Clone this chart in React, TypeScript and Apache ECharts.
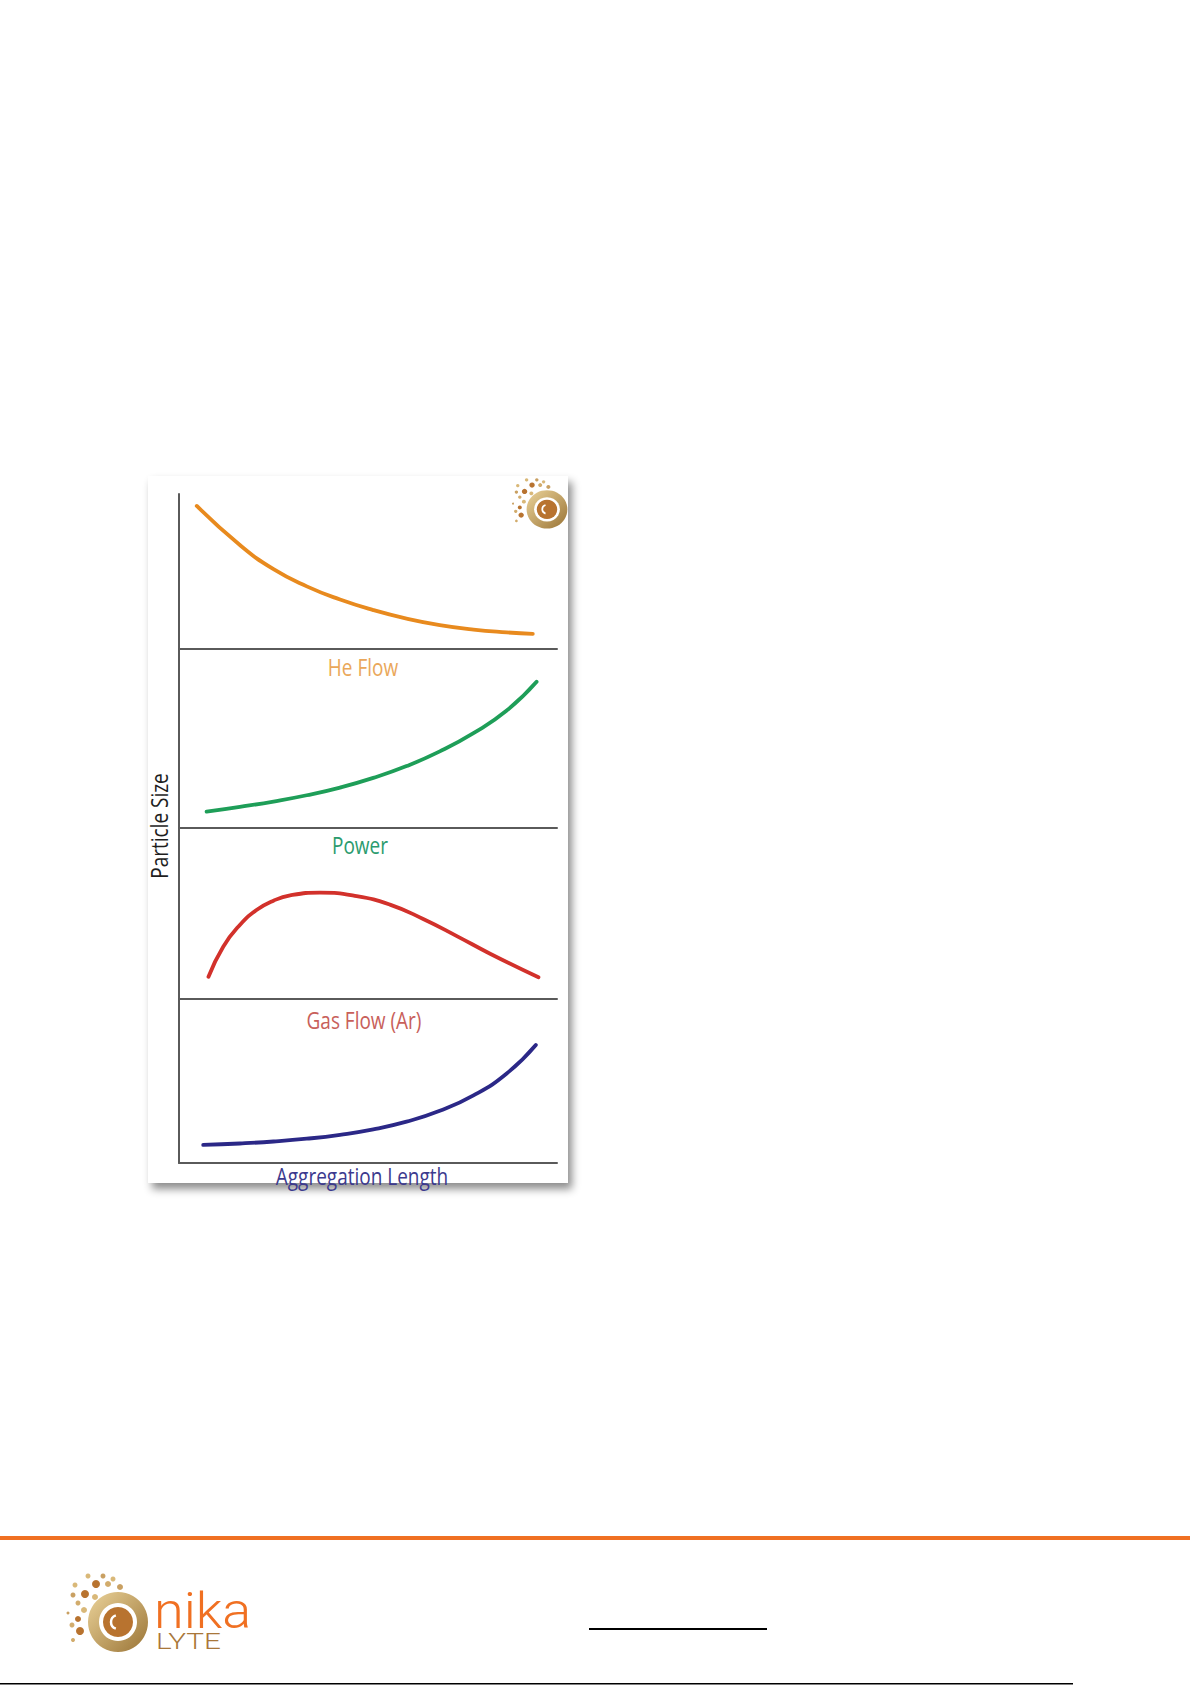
import React, { useEffect, useRef } from "react";
import * as echarts from "echarts";

// ---- data ----
const panelTitles = ["He Flow", "Power", "Gas Flow (Ar)", "Aggregation Length"];
const yAxisTitle = "Particle Size";

const heFlowX = [4.7, 16.1, 25, 33.8, 42.6, 51.4, 60.2, 69, 77.9, 86.7, 93.6];
const heFlowY = [92.3, 67.1, 51.5, 40.4, 31.9, 25.1, 19.6, 15.4, 12.5, 10.7, 9.7];

const powerX = [7.3, 16.1, 25, 33.8, 42.6, 51.4, 60.2, 69, 77.9, 86.7, 94.6];
const powerY = [9.1, 11.8, 14.8, 18.3, 22.6, 28.0, 34.6, 42.8, 53.0, 65.6, 81.7];

const gasFlowX = [7.8, 11.7, 16.1, 20.5, 25, 29.4, 37.3, 47, 55.8, 64.6, 73.5, 82.3, 95.1];
const gasFlowY = [13.0, 30.6, 43.3, 52, 57.5, 60.6, 62.2, 60.2, 55.2, 46.8, 36.8, 26.5, 12.7];

const aggX = [6.4, 16.1, 25, 33.8, 42.6, 51.4, 60.2, 69, 77.9, 86.7, 94.4];
const aggY = [11, 11.9, 13.1, 14.8, 17.2, 20.5, 25.2, 31.8, 41.2, 54.6, 72];

const lineColors = ["#E88A1E", "#1E9E58", "#D2312B", "#2B2887"];
const titleColors = ["#EAA75A", "#2B9B6E", "#C8605A", "#3C3A8E"];

// ---- layout ----
const GRID_LEFT = 179;
const GRID_WIDTH = 378;
const gridTops = [494, 649, 828, 999];
const gridHeights = [155, 179, 171, 164];
const titleCenters: [number, number][] = [
  [363, 667],
  [360, 845],
  [364, 1020],
  [362, 1176],
];

const zip = (xs: number[], ys: number[]) => xs.map((x, i) => [x, ys[i]]);

function iconChildren(): any[] {
  const gold = new echarts.graphic.LinearGradient(0, 0, 1, 1, [
    { offset: 0, color: "#EBD39A" },
    { offset: 1, color: "#9A7436" },
  ]);
  const dots: [number, number, number, string][] = [
    [20, 3, 2.5, "#D9B878"],
    [35, 3, 2.5, "#C9A062"],
    [45, 6, 2.5, "#D9B878"],
    [28, 11, 4, "#B8732F"],
    [40, 11, 3, "#D2AC6C"],
    [52, 14, 3, "#C9A062"],
    [7, 12, 2.5, "#D9B878"],
    [17, 21, 4, "#B8732F"],
    [5, 22, 2.5, "#C9A062"],
    [27, 24, 3, "#D9B878"],
    [10, 30, 2.5, "#D2AC6C"],
    [0, 40, 1.5, "#C9A062"],
    [16, 37, 3, "#D9B878"],
    [10, 46, 3, "#B8732F"],
    [4, 52, 2.5, "#D2AC6C"],
    [12, 58, 4, "#B8732F"],
    [5, 67, 2, "#D2AC6C"],
  ];
  const out: any[] = [
    { type: "circle", shape: { cx: 50, cy: 49, r: 30 }, style: { fill: gold } },
    { type: "circle", shape: { cx: 50, cy: 49, r: 19 }, style: { fill: "#ffffff" } },
    { type: "circle", shape: { cx: 50, cy: 49, r: 15 }, style: { fill: "#B8732F" } },
    {
      type: "arc",
      shape: { cx: 50, cy: 49, r: 7, startAngle: Math.PI * 0.6, endAngle: Math.PI * 1.4 },
      style: { stroke: "#ffffff", lineWidth: 2.5, fill: "none" },
    },
  ];
  dots.forEach(([cx, cy, r, c]) =>
    out.push({ type: "circle", shape: { cx, cy, r }, style: { fill: c } })
  );
  return out;
}

export default function App() {
  const ref = useRef<HTMLDivElement>(null);

  useEffect(() => {
    if (!ref.current) return;
    const chart = echarts.init(ref.current, undefined, { renderer: "svg" });

    const seriesData = [
      zip(heFlowX, heFlowY),
      zip(powerX, powerY),
      zip(gasFlowX, gasFlowY),
      zip(aggX, aggY),
    ];

    const axisLineStyle = { color: "#5a5a5a", width: 2 };

    const grids = gridTops.map((top, i) => ({
      left: GRID_LEFT,
      top,
      width: GRID_WIDTH,
      height: gridHeights[i],
    }));

    const xAxes = gridTops.map((_, i) => ({
      type: "value",
      gridIndex: i,
      min: 0,
      max: 100,
      axisLine: { show: true, onZero: false, lineStyle: axisLineStyle },
      axisTick: { show: false },
      axisLabel: { show: false },
      splitLine: { show: false },
    }));

    const yAxes = gridTops.map((_, i) => ({
      type: "value",
      gridIndex: i,
      min: 0,
      max: 100,
      axisLine: { show: true, onZero: false, lineStyle: axisLineStyle },
      axisTick: { show: false },
      axisLabel: { show: false },
      splitLine: { show: false },
    }));

    const series = seriesData.map((data, i) => ({
      type: "line",
      name: panelTitles[i],
      xAxisIndex: i,
      yAxisIndex: i,
      data,
      smooth: 0.5,
      showSymbol: false,
      symbol: "none",
      lineStyle: { color: lineColors[i], width: 3.8, cap: "round" },
      z: 5,
    }));

    const titleFont = "Open Sans, DejaVu Sans, sans-serif";

    const graphics: any[] = [
      {
        type: "rect",
        z: -10,
        shape: { x: 148, y: 476, width: 420, height: 707 },
        style: {
          fill: "#ffffff",
          shadowBlur: 8,
          shadowOffsetX: 4,
          shadowOffsetY: 6,
          shadowColor: "rgba(0,0,0,0.45)",
        },
      },
      ...panelTitles.map((t, i) => ({
        type: "text",
        x: titleCenters[i][0],
        y: titleCenters[i][1],
        scaleY: 1.2,
        z: 10,
        style: {
          text: t,
          fill: titleColors[i],
          fontSize: 19,
          fontFamily: titleFont,
          align: "center",
          verticalAlign: "middle",
        },
      })),
      {
        type: "text",
        x: 159,
        y: 826,
        rotation: Math.PI / 2,
        scaleY: 1.2,
        z: 10,
        style: {
          text: yAxisTitle,
          fill: "#1e1e1e",
          fontSize: 19,
          fontFamily: titleFont,
          align: "center",
          verticalAlign: "middle",
        },
      },
      {
        type: "group",
        x: 513,
        y: 478,
        scaleX: 0.68,
        scaleY: 0.64,
        z: 10,
        children: iconChildren(),
      },
      {
        type: "rect",
        shape: { x: 0, y: 1536, width: 1190, height: 4 },
        style: { fill: "#F07022" },
      },
      {
        type: "group",
        x: 68,
        y: 1573,
        children: iconChildren(),
      },
      {
        type: "text",
        x: 154,
        y: 1636,
        scaleX: 1.08,
        style: {
          text: "nika",
          fill: "#F07022",
          fontSize: 50,
          fontWeight: 300,
          fontFamily: "Roboto, sans-serif",
          align: "left",
          verticalAlign: "bottom",
        },
      },
      {
        type: "text",
        x: 156,
        y: 1652,
        scaleX: 1.35,
        style: {
          text: "LYTE",
          fill: "#A9773A",
          fontSize: 22,
          fontWeight: 300,
          fontFamily: "Roboto, sans-serif",
          align: "left",
          verticalAlign: "bottom",
        },
      },
      {
        type: "rect",
        shape: { x: 589, y: 1628, width: 178, height: 2 },
        style: { fill: "#000000" },
      },
      {
        type: "rect",
        shape: { x: 0, y: 1683, width: 1073, height: 1.5 },
        style: { fill: "#000000" },
      },
    ];

    chart.setOption({
      animation: false,
      backgroundColor: "#ffffff",
      grid: grids,
      xAxis: xAxes,
      yAxis: yAxes,
      series,
      graphic: { elements: graphics },
    });

    return () => chart.dispose();
  }, []);

  return (
    <div
      ref={ref}
      style={{ position: "absolute", left: 0, top: 0, width: 1192, height: 1685 }}
    />
  );
}
